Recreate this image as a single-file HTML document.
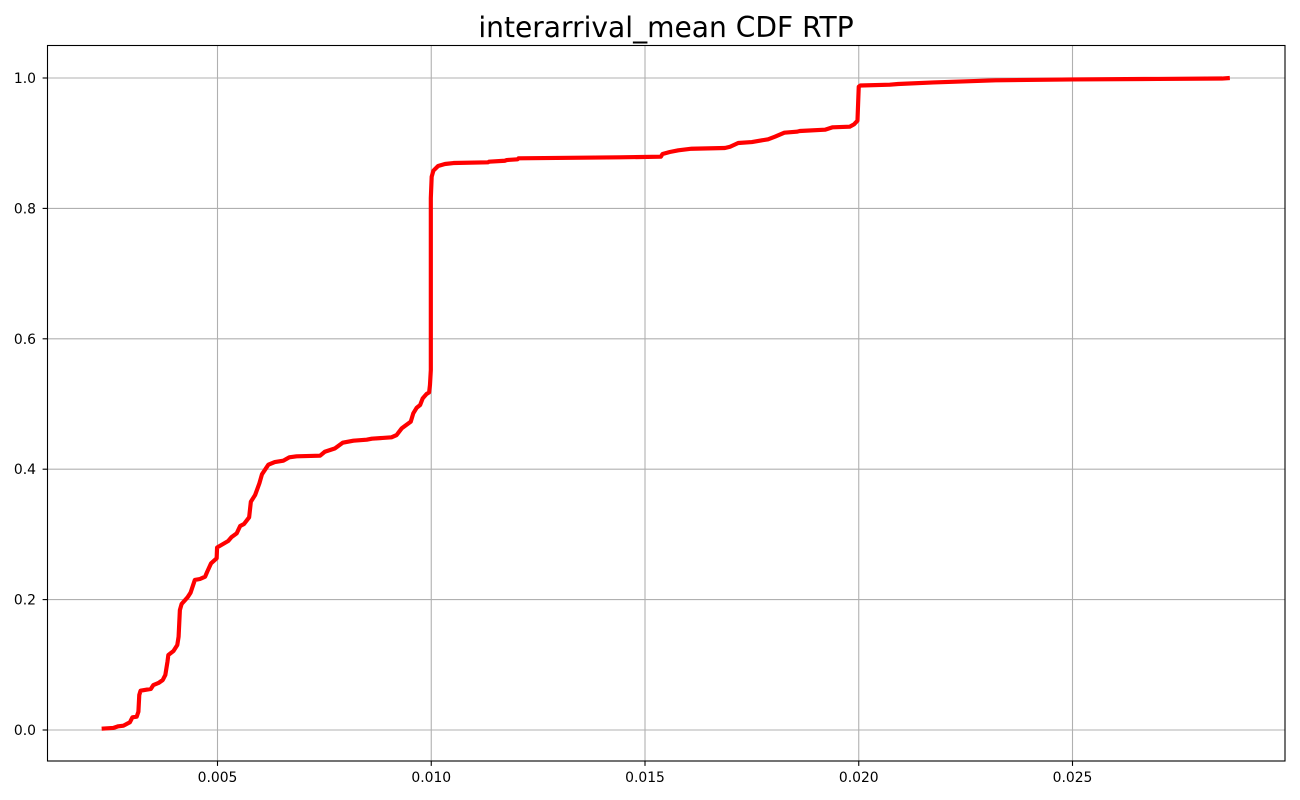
<!DOCTYPE html>
<html lang="en">
<head>
<meta charset="utf-8">
<title>interarrival_mean CDF RTP</title>
<style>
html,body{margin:0;padding:0;background:#fff;width:1300px;height:800px;overflow:hidden}
svg{display:block}
text{font-family:"DejaVu Sans","Liberation Sans",sans-serif;fill:#000}
</style>
</head>
<body>
<svg id="chart" xmlns="http://www.w3.org/2000/svg" width="1300" height="800" viewBox="0 0 1300 800">
  <rect x="0" y="0" width="1300" height="800" fill="#fff"/>
  <text x="666" y="37" text-anchor="middle" font-size="28.1">interarrival_mean CDF RTP</text>
  <g id="grid"></g>
  <g id="series"></g>
  <g id="ticks"></g>
  <rect x="47.5" y="45.5" width="1237.5" height="715.5" fill="none" stroke="#000" stroke-width="1.1"/>
</svg>
<script>
const xTickValues = [0.005, 0.010, 0.015, 0.020, 0.025];
const xTickLabels = ["0.005", "0.010", "0.015", "0.020", "0.025"];
const yTickValues = [0.0, 0.2, 0.4, 0.6, 0.8, 1.0];
const yTickLabels = ["0.0", "0.2", "0.4", "0.6", "0.8", "1.0"];

const interarrivalMean = [
  0.00229,0.00256,0.00268,0.00280,0.00295,0.00301,0.00311,0.00315,0.00317,0.00320,
  0.00344,0.00350,0.00362,0.00372,0.00378,0.00383,0.00385,0.00397,0.00406,0.00409,
  0.00412,0.00416,0.00430,0.00437,0.00447,0.00459,0.00471,0.00476,0.00485,0.00498,
  0.00499,0.00525,0.00533,0.00545,0.00553,0.00562,0.00574,0.00578,0.00588,0.00598,
  0.00604,0.00619,0.00634,0.00654,0.00668,0.00685,0.00740,0.00751,0.00775,0.00793,
  0.00818,0.00849,0.00861,0.00907,0.00919,0.00931,0.00952,0.00958,0.00966,0.00974,
  0.00980,0.00989,0.00995,0.00997,0.00999,0.00999,0.00999,0.01001,0.01005,0.01016,
  0.01032,0.01052,0.01133,0.01135,0.01172,0.01177,0.01202,0.01204,0.01441,0.01537,
  0.01541,0.01558,0.01578,0.01609,0.01687,0.01699,0.01718,0.01750,0.01788,0.01804,
  0.01826,0.01855,0.01862,0.01921,0.01939,0.01979,0.01989,0.01997,0.02000,0.02004,
  0.02073,0.02092,0.02175,0.02210,0.02320,0.02500,0.02700,0.02850,0.02868
];
const cumulativeProbability = [
  0.0020,0.0031,0.0057,0.0066,0.0118,0.0195,0.0204,0.0281,0.0537,0.0603,
  0.0629,0.0690,0.0721,0.0767,0.0844,0.1048,0.1150,0.1212,0.1304,0.1431,
  0.1840,0.1932,0.2035,0.2106,0.2301,0.2316,0.2351,0.2428,0.2557,0.2633,
  0.2799,0.2899,0.2960,0.3017,0.3129,0.3159,0.3262,0.3501,0.3604,0.3784,
  0.3922,0.4069,0.4110,0.4130,0.4182,0.4198,0.4207,0.4268,0.4320,0.4406,
  0.4437,0.4452,0.4468,0.4489,0.4524,0.4627,0.4728,0.4857,0.4943,0.4985,
  0.5087,0.5153,0.5179,0.5291,0.5521,0.7362,0.8159,0.8486,0.8578,0.8650,
  0.8681,0.8696,0.8707,0.8716,0.8731,0.8742,0.8753,0.8768,0.8783,0.8793,
  0.8834,0.8865,0.8891,0.8915,0.8926,0.8946,0.9003,0.9018,0.9060,0.9100,
  0.9161,0.9176,0.9187,0.9207,0.9244,0.9253,0.9290,0.9345,0.9866,0.9885,
  0.9897,0.9908,0.9932,0.9940,0.9965,0.9978,0.9986,0.9992,1.0000
];

const SVG_NS = "http://www.w3.org/2000/svg";
const plotLeft = 47.5, plotRight = 1285, plotTop = 45.5, plotBottom = 761;

function xScale(v) { return 217.5 + (v - 0.005) * 42750; }
function yScale(v) { return 730 - v * 652; }

function make(tag, attrs, parent) {
  const el = document.createElementNS(SVG_NS, tag);
  for (const k in attrs) el.setAttribute(k, attrs[k]);
  parent.appendChild(el);
  return el;
}

const gridG = document.getElementById("grid");
const ticksG = document.getElementById("ticks");
const seriesG = document.getElementById("series");

xTickValues.forEach(function (v, i) {
  const x = xScale(v);
  const g = make("line", {x1: x, x2: x, y1: plotTop, y2: plotBottom, stroke: "#b0b0b0", "stroke-width": 1.1}, gridG);
  
  
  const t = make("line", {x1: x, x2: x, y1: plotBottom, y2: plotBottom + 4.9, stroke: "#000", "stroke-width": 1.1}, ticksG);
  
  
  const l = make("text", {x: x, y: 782, "text-anchor": "middle", "font-size": 13.9}, ticksG);
  
  
  l.textContent = xTickLabels[i];
});

yTickValues.forEach(function (v, i) {
  const y = yScale(v);
  const g = make("line", {x1: plotLeft, x2: plotRight, y1: y, y2: y, stroke: "#b0b0b0", "stroke-width": 1.1}, gridG);
  
  
  const t = make("line", {x1: plotLeft - 4.9, x2: plotLeft, y1: y, y2: y, stroke: "#000", "stroke-width": 1.1}, ticksG);
  
  
  const l = make("text", {x: 36, y: y + 5, "text-anchor": "end", "font-size": 13.9}, ticksG);
  
  
  l.textContent = yTickLabels[i];
});

const pathPoints = interarrivalMean.map(function (v, i) {
  return xScale(v).toFixed(2) + "," + yScale(cumulativeProbability[i]).toFixed(2);
}).join(" ");
const cdfLine = make("polyline", {points: pathPoints, fill: "none", stroke: "#ff0000", "stroke-width": 4.17, "stroke-linejoin": "round", "stroke-linecap": "butt"}, seriesG);


</script>
</body>
</html>
